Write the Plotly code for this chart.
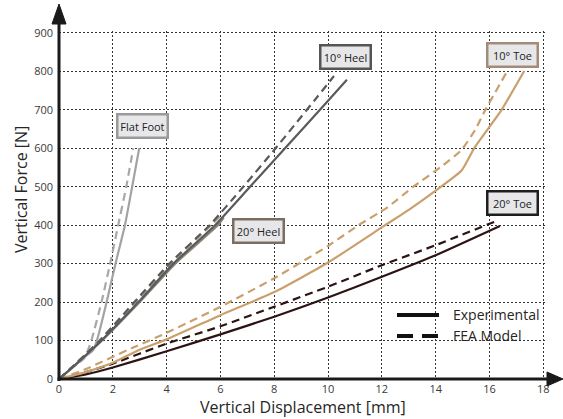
import plotly.graph_objects as go

# ---------------- data ----------------
flat_exp_x = [0, 0.5, 1.0, 1.27, 1.45, 1.77, 2.1, 2.45, 2.72, 2.98]
flat_exp_y = [0, 30, 60, 75, 110, 200, 300, 400, 500, 600]
flat_fea_x = [0, 0.5, 0.95, 1.2, 1.58, 1.9, 2.2, 2.5, 2.76]
flat_fea_y = [0, 30, 55, 100, 200, 300, 400, 500, 600]

heel10_exp_x = [0, 0.5, 1.0, 1.58, 2.95, 4.25, 5.8, 7.1, 8.4, 9.85, 10.7]
heel10_exp_y = [0, 30, 62, 100, 200, 300, 400, 500, 600, 712, 778]
heel10_fea_x = [0, 0.5, 1.0, 1.52, 2.8, 4.1, 5.6, 6.85, 8.05, 9.5, 10.22]
heel10_fea_y = [0, 32, 65, 100, 200, 300, 400, 500, 600, 725, 788]

heel20_exp_x = [0, 0.5, 1.0, 1.6, 3.0, 4.32, 5.9, 6.12]
heel20_exp_y = [0, 30, 61, 100, 200, 300, 400, 420]
heel20_fea_x = [0, 0.5, 1.0, 1.5, 2.85, 4.15, 5.65, 6.05]
heel20_fea_y = [0, 32, 64, 100, 200, 300, 400, 428]

toe10_exp_x = [0, 1, 2, 2.95, 4, 6, 8, 10, 12.12, 13.0, 14.0, 14.97, 15.43, 15.96, 16.45, 17.29]
toe10_exp_y = [0, 18, 42, 75, 103, 166, 226, 303, 400, 440, 490, 543, 600, 652, 700, 801]
toe10_fea_x = [0, 1, 2.76, 4, 6, 8, 10, 11.13, 12.18, 13.17, 14.2, 14.95, 15.46, 15.84, 16.64]
toe10_fea_y = [0, 26, 82, 120, 188, 262, 346, 400, 445, 500, 552, 595, 647, 699, 798]

toe20_exp_x = [0, 1, 2, 4, 6, 8, 10, 12, 14, 16.39]
toe20_exp_y = [0, 12, 30, 72, 116, 162, 212, 266, 322, 398]
toe20_fea_x = [0, 1, 2, 4, 6, 8, 10, 12, 14, 16.33]
toe20_fea_y = [0, 18, 40, 92, 137, 188, 240, 296, 348, 413]

x_ticks = [0, 2, 4, 6, 8, 10, 12, 14, 16, 18]
y_ticks = [0, 100, 200, 300, 400, 500, 600, 700, 800, 900]

label_names = ["Flat Foot", "10° Heel", "20° Heel", "10° Toe", "20° Toe"]
legend_names = ["Experimental", "FEA Model"]

# ---------------- styling ----------------
FONT = "Open Sans"
C_FLAT = "#a3a3a3"
C_FLAT_D = "#a8a8a8"
C_H10 = "#5a5a5a"
C_H20 = "#8e8478"
C_H20_D = "#a59d92"
C_T10 = "#c9a06c"
C_T20 = "#2c1414"
DASH = "8px,5px"
LW = 2.2

fig = go.Figure()


def add(x, y, color, dash=None):
    fig.add_trace(go.Scatter(
        x=x, y=y, mode="lines",
        line=dict(color=color, width=LW, dash=dash if dash else "solid",
                  shape="spline", smoothing=0.5),
        showlegend=False, hoverinfo="skip"))


add(toe20_exp_x, toe20_exp_y, C_T20)
add(toe20_fea_x, toe20_fea_y, C_T20, DASH)
add(toe10_exp_x, toe10_exp_y, C_T10)
add(toe10_fea_x, toe10_fea_y, C_T10, DASH)
add(heel20_fea_x, heel20_fea_y, C_H20_D, DASH)
add(heel20_exp_x, heel20_exp_y, C_H20)
add(flat_fea_x, flat_fea_y, C_FLAT_D, DASH)
add(flat_exp_x, flat_exp_y, C_FLAT)
add(heel10_fea_x, heel10_fea_y, C_H10, DASH)
add(heel10_exp_x, heel10_exp_y, C_H10)

# ---------------- layout geometry ----------------
W, H = 563, 419
ML, MR, MT, MB = 59, 17, 31, 40
PW = W - ML - MR
PH = H - MT - MB


def px(x):
    return (x - ML) / PW


def py(y):
    return (H - MB - y) / PH


shapes = []
AX = "#1a1a1a"
# y axis with arrow
shapes.append(dict(type="line", xref="paper", yref="paper",
                   x0=px(59), x1=px(59), y0=py(381), y1=py(20),
                   line=dict(color=AX, width=3)))
shapes.append(dict(type="path", xref="paper", yref="paper",
                   path=f"M {px(52)},{py(24)} L {px(59)},{py(4)} L {px(66)},{py(24)} Z",
                   fillcolor=AX, line=dict(color=AX, width=1)))
# x axis with arrow
shapes.append(dict(type="line", xref="paper", yref="paper",
                   x0=px(57.5), x1=px(552), y0=py(379), y1=py(379),
                   line=dict(color=AX, width=3)))
shapes.append(dict(type="path", xref="paper", yref="paper",
                   path=f"M {px(547)},{py(372)} L {px(563)},{py(379)} L {px(547)},{py(386)} Z",
                   fillcolor=AX, line=dict(color=AX, width=1)))
# legend samples
shapes.append(dict(type="line", xref="paper", yref="paper",
                   x0=px(397), x1=px(439), y0=py(315), y1=py(315),
                   line=dict(color="#111111", width=4)))
shapes.append(dict(type="line", xref="paper", yref="paper",
                   x0=px(397), x1=px(439), y0=py(336), y1=py(336),
                   line=dict(color="#111111", width=4, dash="16px,9px")))

annotations = []
# axis titles
annotations.append(dict(text="Vertical Displacement [mm]", xref="paper", yref="paper",
                        x=px(303), y=py(407), showarrow=False,
                        xanchor="center", yanchor="middle",
                        font=dict(family=FONT, size=16, color="#262626")))
annotations.append(dict(text="Vertical Force [N]", xref="paper", yref="paper",
                        x=px(21), y=py(190), showarrow=False, textangle=-90,
                        xanchor="center", yanchor="middle",
                        font=dict(family=FONT, size=16, color="#262626")))
# legend texts
annotations.append(dict(text=legend_names[0], xref="paper", yref="paper",
                        x=px(451), y=py(314), showarrow=False,
                        xanchor="left", yanchor="middle",
                        font=dict(family=FONT, size=14, color="#262626")))
annotations.append(dict(text=legend_names[1], xref="paper", yref="paper",
                        x=px(451), y=py(335), showarrow=False,
                        xanchor="left", yanchor="middle",
                        font=dict(family=FONT, size=14, color="#262626")))

# curve labels (boxes)
label_pos = [(3.09, 658), (10.65, 837), (7.43, 385), (16.84, 843), (16.84, 458)]
label_border = ["#9a9a9a", "#555555", "#7a6e62", "#a38b7b", "#1e1e1e"]
for name, (lx, ly), bc in zip(label_names, label_pos, label_border):
    annotations.append(dict(text=name, x=lx, y=ly, xref="x", yref="y",
                            showarrow=False, xanchor="center", yanchor="middle",
                            bgcolor="#e7e7ea", bordercolor=bc, borderwidth=2.5,
                            borderpad=1.5, width=45, height=18,
                            font=dict(family=FONT, size=11, color="#222222")))

fig.update_layout(
    width=W, height=H,
    margin=dict(l=ML, r=MR, t=MT, b=MB, pad=0),
    paper_bgcolor="white", plot_bgcolor="white",
    showlegend=False,
    shapes=shapes, annotations=annotations,
    xaxis=dict(range=[0, 18.1], tickvals=x_ticks, ticktext=[str(v) for v in x_ticks],
               showgrid=True, gridcolor="#333333", gridwidth=1, griddash="2px,2px",
               zeroline=False, showline=False, ticks="", ticklabelstandoff=2,
               tickfont=dict(family=FONT, size=11, color="#3a3a3a"), fixedrange=True),
    yaxis=dict(range=[0, 905], tickvals=y_ticks, ticktext=[str(v) for v in y_ticks],
               showgrid=True, gridcolor="#333333", gridwidth=1, griddash="2px,2px",
               zeroline=False, showline=False, ticks="", ticklabelstandoff=5,
               tickfont=dict(family=FONT, size=11, color="#3a3a3a"), fixedrange=True),
)

fig.write_html("out.html",
               config={"displayModeBar": False},
               post_script="document.body.style.margin='0';"
                           "document.body.style.padding='0';"
                           "document.body.style.overflow='hidden';")
